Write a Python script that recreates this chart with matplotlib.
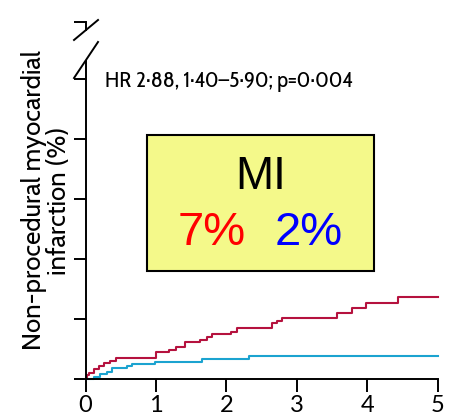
import matplotlib
matplotlib.use("Agg")
import matplotlib.pyplot as plt
from matplotlib.patches import Rectangle

# Kaplan-Meier style cumulative incidence
red_t = [0, 0.014, 0.05, 0.12, 0.19, 0.26, 0.35, 0.43, 1.0, 1.18, 1.28, 1.42,
         1.63, 1.72, 1.80, 2.06, 2.15, 2.65, 2.72, 2.79, 3.57, 3.78, 3.99, 4.44, 5.0]
red_y = [0, 0.33, 0.53, 0.80, 1.08, 1.30, 1.53, 1.72, 2.28, 2.42, 2.69, 3.11,
         3.25, 3.53, 3.72, 3.94, 4.22, 4.64, 4.86, 5.06, 5.47, 5.89, 6.31, 6.86, 6.86]
blue_t = [0, 0.12, 0.21, 0.31, 0.38, 0.59, 0.66, 0.99, 1.65, 2.32, 5.0]
blue_y = [0, 0.19, 0.42, 0.61, 0.89, 1.11, 1.25, 1.39, 1.64, 1.92, 1.92]

x_ticks = [0, 1, 2, 3, 4, 5]
y_ticks = [0, 5, 10, 15, 20, 25]
y_top = 29.75

hr_text = "HR 2\u00b788, 1\u00b740\u20135\u00b790; p=0\u00b7004"
ylabel = "Non-procedural myocardial\ninfarction (%)"

red = "#b5123e"
blue = "#1ba3d0"
humanist = ["Cabin", "DejaVu Sans"]
arial = ["Liberation Sans", "DejaVu Sans"]

fig = plt.figure(figsize=(4.63, 4.18), dpi=100)
ax = fig.add_axes([0.1847, 0.0933, 0.7603, 0.8541])

ax.step(red_t, red_y, where="post", color=red, lw=1.5, clip_on=False)
ax.step(blue_t, blue_y, where="post", color=blue, lw=1.5, clip_on=False)

ax.set_xlim(0, 5)
ax.set_ylim(0, y_top)
ax.set_xticks(x_ticks)
ax.set_xticklabels([str(v) for v in x_ticks], fontsize=17, family=["Lato", "DejaVu Sans"])
ax.set_yticks(y_ticks + [y_top])
ax.set_yticklabels([])
ax.tick_params(axis="both", direction="out", length=9, width=1.4, pad=2.5)

for s in ["top", "right", "left"]:
    ax.spines[s].set_visible(False)
ax.spines["bottom"].set_linewidth(1.4)

# broken y axis drawn by hand
ytr = ax.get_yaxis_transform()
ax.plot([0, 0], [0, (379 - 61) / 12], transform=ytr, color="black", lw=1.4, clip_on=False)
ax.plot([0, 0], [(379 - 30) / 12, y_top], transform=ytr, color="black", lw=1.4, clip_on=False)
ax.plot([-11.5 / 352 * 5, 12.5 / 352 * 5], [(379 - 40) / 12, (379 - 20) / 12],
        color="black", lw=1.4, clip_on=False)
ax.plot([-11.5 / 352 * 5, 12.5 / 352 * 5], [(379 - 78) / 12, (379 - 42) / 12],
        color="black", lw=1.4, clip_on=False)

ax.text(0.27, 24.3, hr_text, fontsize=16.2, family=["Cabin Condensed", "DejaVu Sans"],
        ha="left", va="baseline")

ax.text(-0.112, 0.5, ylabel, transform=ax.transAxes, rotation=90, ha="center", va="center",
        fontsize=18.5, family=humanist, linespacing=0.95)

box = Rectangle((0.874, 9.0), 4.098 - 0.874, 20.33 - 9.0, facecolor="#f4f98a",
                edgecolor="black", lw=1.5)
ax.add_patch(box)
ax.text(2.486, 16.86, "MI", fontsize=33, ha="center", va="center", family=arial)
ax.text(1.79, 12.17, "7%", fontsize=34, color="#ff0000", ha="center", va="center", family=arial)
ax.text(3.168, 12.17, "2%", fontsize=34, color="#0000ff", ha="center", va="center", family=arial)

fig.savefig("out.png", dpi=100)
